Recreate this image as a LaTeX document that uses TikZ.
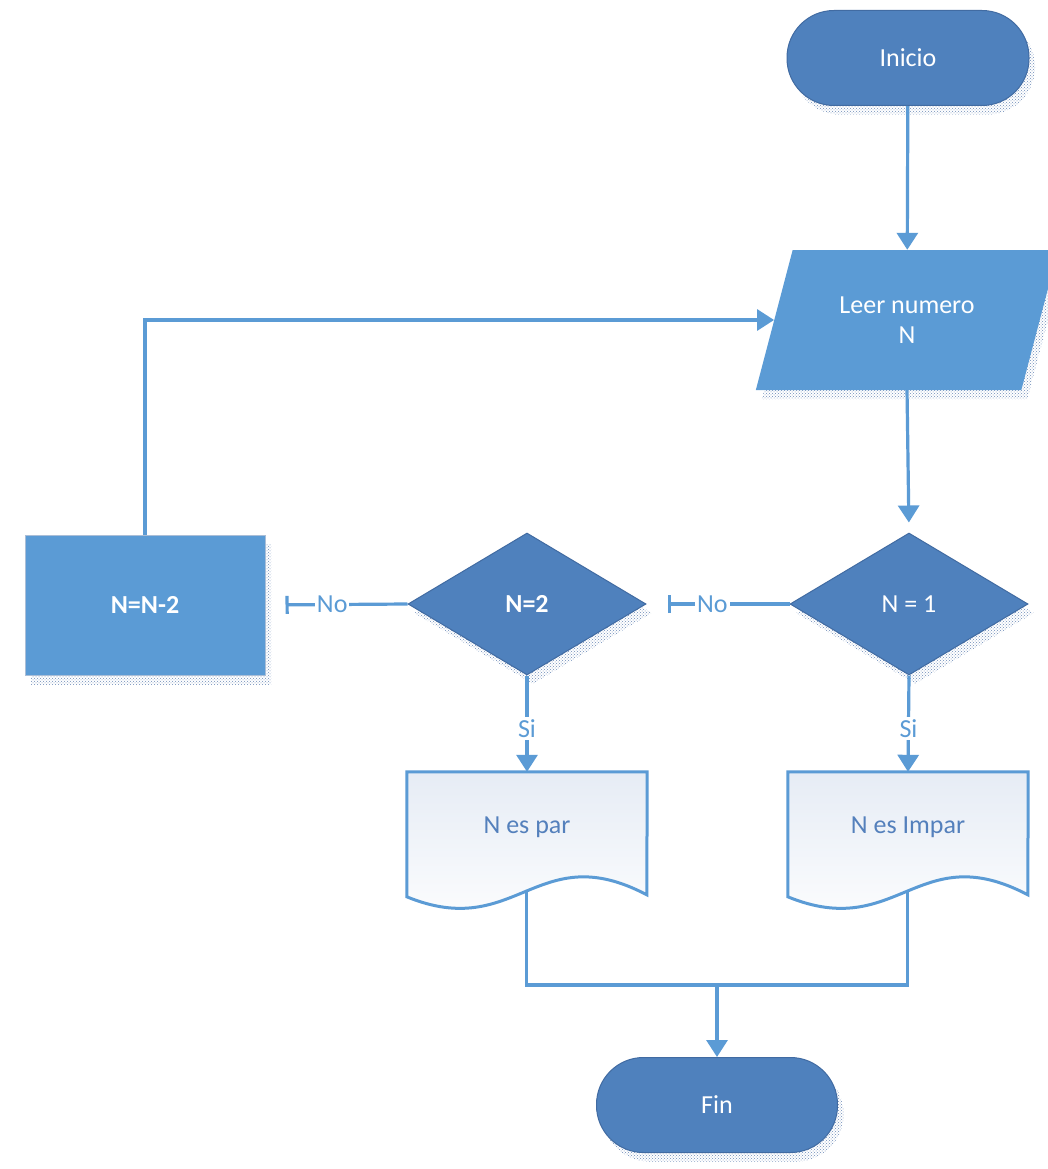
\documentclass[tikz,border=0pt]{standalone}
\usepackage{fontspec}
\setmainfont{Carlito}
\usetikzlibrary{shapes.geometric,arrows.meta,patterns,shadows,calc}
\definecolor{termfill}{RGB}{79,129,189}
\definecolor{termline}{RGB}{65,107,162}
\definecolor{procfill}{RGB}{91,155,213}
\definecolor{linec}{RGB}{91,155,213}
\definecolor{doctext}{RGB}{84,128,188}
\definecolor{shadowc}{RGB}{110,140,185}
\definecolor{docshade}{RGB}{230,236,245}
\definecolor{procline}{RGB}{170,190,215}

\begin{document}
\begin{tikzpicture}[x=1pt,y=-1pt,
  every node/.style={font=\fontsize{26}{30}\selectfont, inner sep=0pt},
  dotshadow/.style={general shadow={shadow xshift=6pt, shadow yshift=-9pt,
      pattern=crosshatch dots, pattern color=shadowc}},
  term/.style={rectangle, rounded corners=47pt, minimum width=242pt,
      minimum height=95pt, fill=termfill, draw=termline, line width=1pt,
      text=white, dotshadow},
  iobox/.style={trapezium, trapezium left angle=65, trapezium right angle=115,
      trapezium stretches=true, minimum width=303pt, minimum height=140pt,
      fill=procfill, draw=none, text=white, align=center, dotshadow},
  decision/.style={diamond, aspect=1.676, minimum width=238pt,
      minimum height=142pt, fill=termfill, draw=termline, line width=1pt,
      text=white, dotshadow},
  procbox/.style={rectangle, minimum width=240pt, minimum height=140pt,
      fill=procfill, draw=procline, line width=1pt, text=white, dotshadow},
  doctxt/.style={rectangle, minimum width=240pt, minimum height=110pt,
      text=doctext},
  docedge/.style={draw=linec, line width=3pt, top color=docshade,
      bottom color=white},
  flow/.style={draw=linec, line width=3.2pt},
  tip/.style={-{Triangle[width=21pt,length=17pt]}},
  bartip/.style={-{Bar[width=18pt,line width=3.2pt]}},
  lbl/.style={fill=white, text=linec, inner sep=2pt}
]
\clip (0,0) rectangle (1048,1169);
\fill[white] (0,0) rectangle (1048,1169);

% shapes
\node[term] (inicio) at (908,58) {Inicio};
\node[iobox] (leer) at (907,320) {Leer numero\\N};
\node[decision] (d1) at (909,604) {N = 1};
\node[decision] (d2) at (527,604) {\bfseries N=2};
\node[procbox] (resta) at (145,605) {\bfseries N=N-2};
\node[doctxt] (par) at (527,827) {};
\node[doctxt] (impar) at (908,827) {};
\node[term, minimum width=241pt] (fin) at (717,1105) {Fin};

% document outlines with wavy bottom edge
\path[docedge] (par.north west) -- (par.north east)
  -- ($(par.north west)+(240,123)$)
  .. controls ($(par.north west)+(130,65)$) and ($(par.north west)+(110,170)$)
  .. ($(par.north west)+(0,125)$) coordinate[pos=0.5] (parB) -- cycle;
\path[docedge] (impar.north west) -- (impar.north east)
  -- ($(impar.north west)+(240,123)$)
  .. controls ($(impar.north west)+(130,65)$) and ($(impar.north west)+(110,170)$)
  .. ($(impar.north west)+(0,125)$) coordinate[pos=0.5] (imparB) -- cycle;
\node[doctxt] at (par) {N es par};
\node[doctxt] at (impar) {N es Impar};

% connectors
\coordinate (merge) at (717,985);
\draw[flow,tip] (inicio) -- (leer);
\draw[flow,tip,shorten >=10pt] (leer.south) -- (d1.north);
\draw[flow,tip] (d1.south) -- node[lbl,pos=0.55] {Si} (impar.north);
\draw[flow,tip] (d2.south) -- node[lbl,pos=0.55] {Si} (par.north);
\draw[flow,bartip,shorten >=21pt] (d1.west) -- node[lbl,pos=0.54] {No} (d2.east);
\draw[flow,bartip,shorten >=20pt] (d2.west) -- node[lbl,pos=0.53] {No} (resta.east);
\draw[flow,tip] (resta.north) |- (leer.west);
\draw[flow] (parB) |- (merge);
\draw[flow] (imparB) |- (merge);
\draw[flow,tip] (merge) -- (fin);
\end{tikzpicture}
\end{document}
